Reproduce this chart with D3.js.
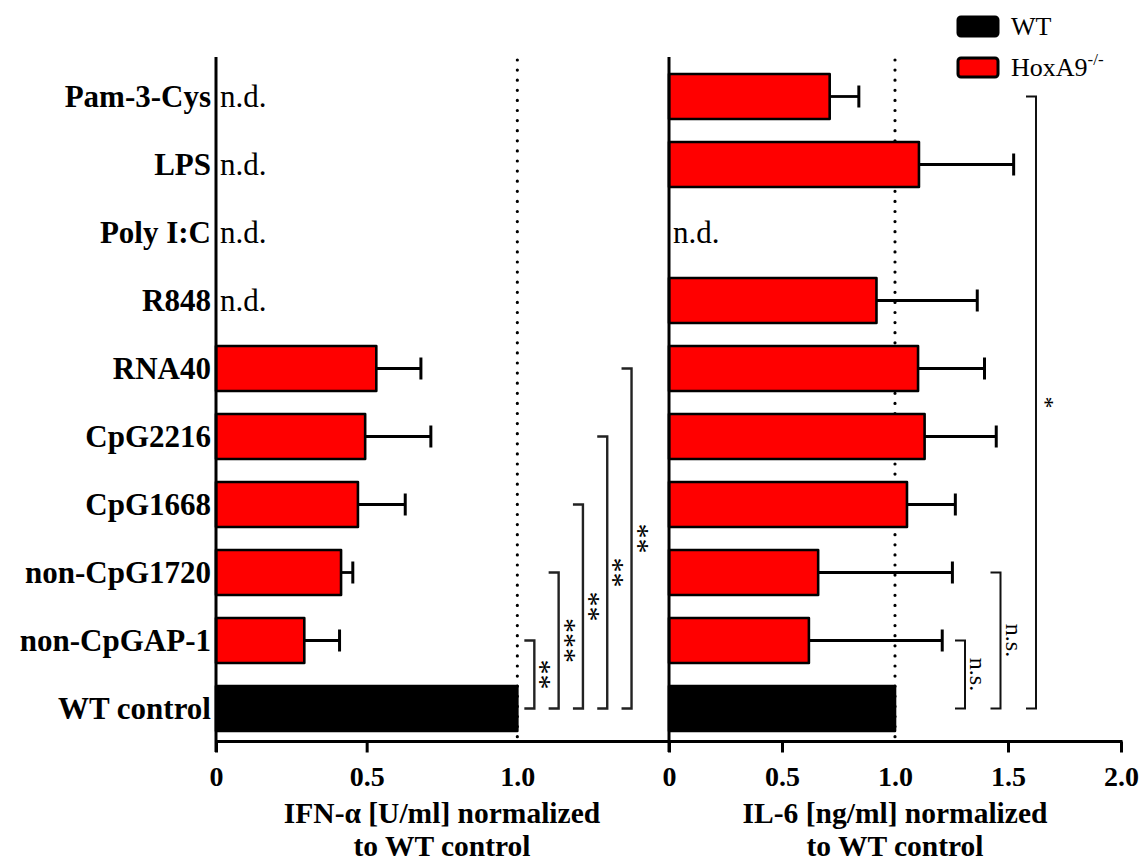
<!DOCTYPE html>
<html>
<head>
<meta charset="utf-8">
<script src="https://cdn.jsdelivr.net/npm/d3@7"></script>
<style>
  html, body { margin: 0; padding: 0; background: #fff; }
  svg { display: block; }
  text { font-family: "Liberation Serif", "Times New Roman", serif; fill: #000; }
</style>
</head>
<body>
<svg id="chart" width="1144" height="866"></svg>
<script>
// Stimuli, top to bottom
const categories = ["Pam-3-Cys", "LPS", "Poly I:C", "R848", "RNA40", "CpG2216",
                    "CpG1668", "non-CpG1720", "non-CpGAP-1", "WT control"];
// Genotype of each row (WT control is the wild-type reference)
const genotype = ["ko", "ko", "ko", "ko", "ko", "ko", "ko", "ko", "ko", "wt"];

// IFN-alpha, normalized to WT control (null = not detected)
const ifnMean = [null, null, null, null, 0.532, 0.495, 0.471, 0.415, 0.293, 1.0];
const ifnErr  = [null, null, null, null, 0.148, 0.218, 0.157, 0.039, 0.117, 0];

// IL-6, normalized to WT control (null = not detected)
const il6Mean = [0.711, 1.106, null, 0.918, 1.102, 1.131, 1.053, 0.660, 0.619, 1.0];
const il6Err  = [0.129, 0.419, null, 0.446, 0.294, 0.317, 0.214, 0.594, 0.590, 0];

// Axis ticks
const ifnTicks = [0, 0.5, 1.0];
const il6Ticks = [0, 0.5, 1.0, 1.5, 2.0];

// Significance versus WT control
const ifnSig = [
  { from: "non-CpGAP-1", label: "**" },
  { from: "non-CpG1720", label: "***" },
  { from: "CpG1668", label: "**" },
  { from: "CpG2216", label: "**" },
  { from: "RNA40", label: "**" }
];
const il6Sig = [
  { from: "non-CpGAP-1", label: "n.s." },
  { from: "non-CpG1720", label: "n.s." },
  { from: "Pam-3-Cys", label: "*" }
];

const legendItems = [
  { key: "wt", name: "WT" },
  { key: "ko", name: "HoxA9", sup: "-/-" }
];
const fillFor = { wt: "#000000", ko: "#ff0000" };

const svg = d3.select("#chart");

const axisY = 741.5;
const y = d3.scaleBand().domain(categories).range([62.5, 742.5])
  .paddingInner(0.34).paddingOuter(0.17);
const xL = d3.scaleLinear().domain([0, 1.5]).range([216, 668]);
const xR = d3.scaleLinear().domain([0, 2.0]).range([669, 1121]);
const rowC = c => y(c) + y.bandwidth() / 2;

// Reference lines at 1.0 (drawn under the bars)
[xL, xR].forEach(x => {
  svg.append("line")
    .attr("x1", x(1)).attr("x2", x(1))
    .attr("y1", 60).attr("y2", axisY - 2)
    .attr("stroke", "#000").attr("stroke-width", 3.2)
    .attr("stroke-linecap", "round")
    .attr("stroke-dasharray", "0 10.1");
});

function drawPanel(x, means, errs) {
  const g = svg.append("g");
  const rows = categories.map((c, i) => ({ c, m: means[i], e: errs[i], gt: genotype[i] }));
  const present = rows.filter(d => d.m !== null);

  g.selectAll("rect.bar").data(present).join("rect")
    .attr("class", "bar")
    .attr("x", x(0))
    .attr("y", d => y(d.c))
    .attr("width", d => x(d.m) - x(0))
    .attr("height", y.bandwidth())
    .attr("fill", d => fillFor[d.gt])
    .attr("stroke", "#000").attr("stroke-width", 2.6)
    .attr("stroke-linejoin", "round");

  const eb = present.filter(d => d.e > 0);
  g.selectAll("line.err").data(eb).join("line")
    .attr("x1", d => x(d.m)).attr("x2", d => x(d.m + d.e))
    .attr("y1", d => rowC(d.c)).attr("y2", d => rowC(d.c))
    .attr("stroke", "#000").attr("stroke-width", 2.8);
  g.selectAll("line.cap").data(eb).join("line")
    .attr("x1", d => x(d.m + d.e)).attr("x2", d => x(d.m + d.e))
    .attr("y1", d => rowC(d.c) - 11).attr("y2", d => rowC(d.c) + 11)
    .attr("stroke", "#000").attr("stroke-width", 3);

  g.selectAll("text.nd").data(rows.filter(d => d.m === null)).join("text")
    .attr("x", x(0) + 4)
    .attr("y", d => rowC(d.c))
    .attr("dy", "0.35em")
    .attr("font-size", 31)
    .text("n.d.");
}

drawPanel(xL, ifnMean, ifnErr);
drawPanel(xR, il6Mean, il6Err);

// Category labels on the left axis
const yAxis = svg.append("g")
  .attr("transform", `translate(${xL(0)},0)`)
  .call(d3.axisLeft(y).tickSize(0).tickPadding(5));
yAxis.select(".domain").remove();
yAxis.selectAll("text")
  .attr("font-family", "Liberation Serif, Times New Roman, serif")
  .attr("font-weight", "bold").attr("font-size", 31).attr("dy", "0.34em");

// Vertical axis lines
[xL(0), xR(0)].forEach(px => {
  svg.append("line")
    .attr("x1", px).attr("x2", px).attr("y1", 57).attr("y2", 752)
    .attr("stroke", "#000").attr("stroke-width", 3);
});

// Bottom axes
function bottomAxis(x, ticks) {
  const g = svg.append("g")
    .attr("transform", `translate(0,${axisY})`)
    .call(d3.axisBottom(x).tickValues(ticks).tickSize(11).tickPadding(14)
      .tickFormat(d => d === 0 ? "0" : d3.format(".1f")(d)));
  g.select(".domain").remove();
  g.selectAll(".tick line").attr("stroke", "#000").attr("stroke-width", 3)
    .filter(d => d === 1).remove();
  g.selectAll(".tick text")
    .attr("font-family", "Liberation Serif, Times New Roman, serif")
    .attr("font-weight", "bold").attr("font-size", 28).attr("fill", "#000");
  return g;
}
bottomAxis(xL, ifnTicks);
bottomAxis(xR, il6Ticks);
svg.append("line")
  .attr("x1", xL(0)).attr("x2", xR(2) + 1.5)
  .attr("y1", axisY).attr("y2", axisY)
  .attr("stroke", "#000").attr("stroke-width", 3);

// Axis titles, two lines each
function axisTitle(cx, lines) {
  lines.forEach((s, i) => svg.append("text")
    .attr("x", cx).attr("y", 823 + i * 33)
    .attr("text-anchor", "middle")
    .attr("font-weight", "bold").attr("font-size", 29.5)
    .text(s));
}
axisTitle((xL(0) + xL(1.5)) / 2, ["IFN-\u03b1 [U/ml] normalized", "to WT control"]);
axisTitle((xR(0) + xR(2)) / 2, ["IL-6 [ng/ml] normalized", "to WT control"]);

// Significance brackets
function bracket(x0, from, label, opts) {
  const top = rowC(from), bot = rowC("WT control");
  svg.append("path")
    .attr("d", `M${x0 - 10},${top}H${x0}V${bot}H${x0 - 10}`)
    .attr("fill", "none").attr("stroke", opts.color).attr("stroke-width", opts.sw);
  const cy = (top + bot) / 2;
  svg.append("text")
    .attr("transform", `translate(${x0 + opts.dx},${cy}) rotate(90)`)
    .attr("text-anchor", "middle")
    .attr("font-size", opts.fs)
    .attr("fill", opts.color)
    .text(label);
}
ifnSig.forEach((s, i) => bracket(xL(1) + 17 + i * 24.3, s.from, s.label,
  { color: "#222", sw: 2.4, dx: -3, fs: 30 }));
il6Sig.forEach((s, i) => bracket(xR(1) + 70 + i * 35.5, s.from, s.label,
  { color: "#111", sw: 2, dx: s.label === "*" ? 2 : 5, fs: 24 }));

// Legend
const leg = svg.append("g");
legendItems.forEach((d, i) => {
  const ly = 17 + i * 41;
  leg.append("rect")
    .attr("x", 958).attr("y", ly).attr("width", 40).attr("height", 19)
    .attr("rx", 3).attr("fill", fillFor[d.key])
    .attr("stroke", "#000").attr("stroke-width", 3);
  const t = leg.append("text").attr("x", 1011).attr("y", ly + 18).attr("font-size", 26).text(d.name);
  if (d.sup) t.append("tspan").attr("font-size", 17).attr("dy", -11).text(d.sup);
});
</script>
</body>
</html>
